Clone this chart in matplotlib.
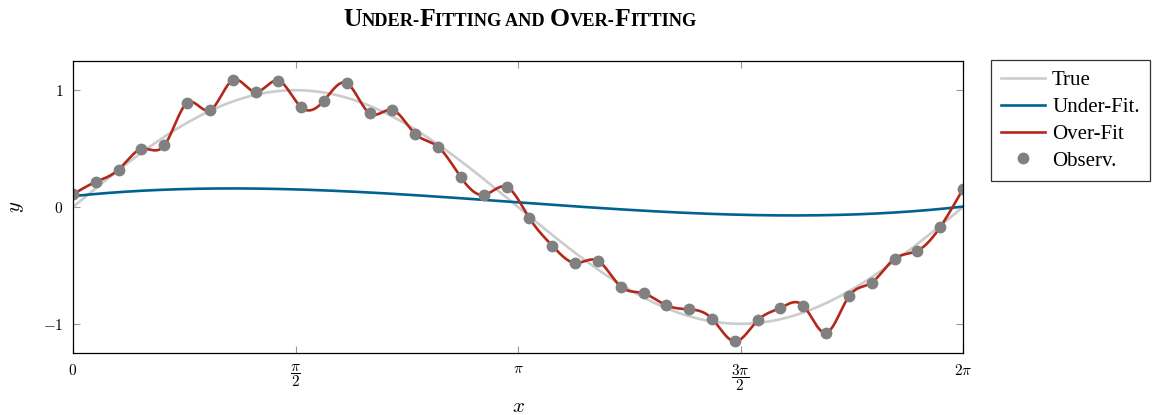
import numpy as np
import matplotlib
matplotlib.use('Agg')
import matplotlib.pyplot as plt

plt.rcParams['mathtext.fontset'] = 'cm'
plt.rcParams['font.family'] = 'Liberation Serif'

#%% data

# observations, 40 points evenly spaced over [0, 2pi]
obs_y = [0.109, 0.215, 0.321, 0.496, 0.527, 0.891, 0.828, 1.086, 0.985, 1.082,
         0.854, 0.911, 1.060, 0.801, 0.831, 0.625, 0.515, 0.253, 0.103, 0.172,
         -0.095, -0.331, -0.479, -0.460, -0.681, -0.739, -0.842, -0.876, -0.956, -1.151,
         -0.971, -0.864, -0.845, -1.077, -0.765, -0.647, -0.443, -0.375, -0.172, 0.155]
obs_x = np.linspace(0, 2*np.pi, len(obs_y))

# under-fit curve, sampled at a few places
under_x = [0.007, 1.323, 2.036, 2.17, 3.156, 3.862, 4.709, 4.991, 6.283]
under_y = [0.094, 0.149, 0.135, 0.129, 0.038, -0.043, -0.057, -0.063, 0.0]

xticks = [0, np.pi/2, np.pi, 3*np.pi/2, 2*np.pi]
xticklabels = [r'$0$', r'$\dfrac{\pi}{2}$', r'$\pi$', r'$\dfrac{3\pi}{2}$', r'$2\pi$']
yticks = [-1, 0, 1]
yticklabels = [r'$-1$', r'$0$', r'$1$']

c_true = '#cccccc'
c_under = '#00628f'
c_over = '#b3281b'
c_obs = '#808080'

#%% models

def natural_spline(x, y, xs):
    # plain natural cubic spline through (x, y)
    x, y = np.asarray(x, float), np.asarray(y, float)
    n = len(x)
    h = np.diff(x)
    A = np.zeros((n, n))
    r = np.zeros(n)
    A[0, 0] = A[-1, -1] = 1
    for i in range(1, n-1):
        A[i, i-1] = h[i-1]
        A[i, i] = 2*(h[i-1] + h[i])
        A[i, i+1] = h[i]
        r[i] = 3*((y[i+1]-y[i])/h[i] - (y[i]-y[i-1])/h[i-1])
    c = np.linalg.solve(A, r)
    b = (y[1:]-y[:-1])/h - h*(2*c[:-1] + c[1:])/3
    d = (c[1:]-c[:-1])/(3*h)
    idx = np.clip(np.searchsorted(x, xs) - 1, 0, n-2)
    dx = xs - x[idx]
    return y[idx] + b[idx]*dx + c[idx]*dx**2 + d[idx]*dx**3

xs = np.linspace(0, 2*np.pi, 1500)
true_y = np.sin(xs)
under = np.polyval(np.polyfit(under_x, under_y, 3), xs)
over = natural_spline(obs_x, obs_y, xs)

#%% figure

fig = plt.figure(figsize=(11.63, 4.15), dpi=100)
ax = fig.add_axes([73/1163, 1-353/415, 890/1163, 292/415])

ax.plot(xs, true_y, color=c_true, lw=1.9, label='True')
ax.plot(xs, under, color=c_under, lw=1.9, label='Under-Fit.')
ax.plot(xs, over, color=c_over, lw=1.9, label='Over-Fit')
ax.plot(obs_x, obs_y, 'o', color=c_obs, ms=8.5, mec='none', label='Observ.')

ax.set_xlim(0, 2*np.pi)
ax.set_ylim(-1.25, 1.25)
ax.set_xticks(xticks)
ax.set_xticklabels(xticklabels, fontsize=11)
ax.set_yticks(yticks)
ax.set_yticklabels(yticklabels, fontsize=11)
ax.tick_params(direction='in', top=True, right=True, length=5, width=0.8,
               color='#999999', pad=7)
for s in ax.spines.values():
    s.set_linewidth(0.9)

ax.set_xlabel(r'$x$', fontsize=15, labelpad=3)
ax.set_ylabel(r'$y$', fontsize=15, labelpad=12)

leg = ax.legend(loc='upper left', bbox_to_anchor=(1.031, 1.003), fontsize=15,
                frameon=True, fancybox=False, edgecolor='black', handlelength=2.1,
                borderpad=0.5, labelspacing=0.35, handletextpad=0.35, borderaxespad=0)
leg.get_frame().set_linewidth(0.9)

# small caps title, built from runs of two sizes
runs = [('U', 18.5), ('NDER-', 13.2), ('F', 18.5), ('ITTING AND ', 13.2),
        ('O', 18.5), ('VER-', 13.2), ('F', 18.5), ('ITTING', 13.2)]
parts = [fig.text(0, 1-26/415, txt, fontsize=size, fontweight='bold',
                  va='baseline', ha='left') for txt, size in runs]

# place the runs side by side
fig.canvas.draw()
rend = fig.canvas.get_renderer()
x0 = 343/1163
for t in parts:
    t.set_x(x0)
    x0 += t.get_window_extent(rend).width/1163

fig.savefig('out.png', dpi=100)
